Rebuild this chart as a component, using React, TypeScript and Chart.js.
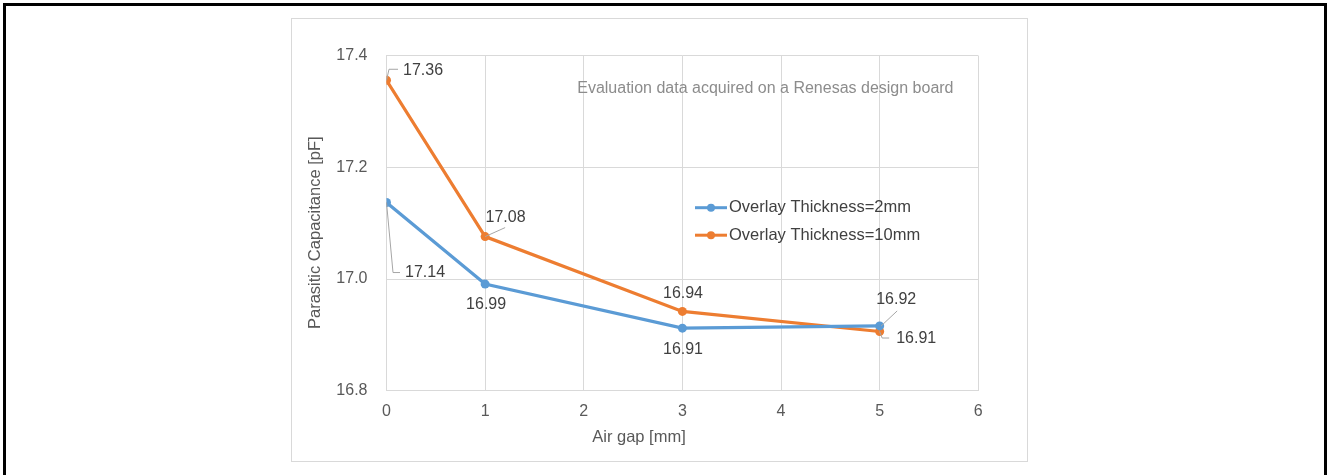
import React, { useEffect, useRef } from "react";
import { Chart, registerables } from "chart.js";

Chart.register(...registerables);

const airGap = [0, 1, 3, 5];
const thick2mm = [17.137, 16.991, 16.912, 16.916];
const thick10mm = [17.356, 17.076, 16.942, 16.906];
const seriesNames = ["Overlay Thickness=2mm", "Overlay Thickness=10mm"];
const seriesColors = ["#5B9BD5", "#ED7D31"];
const xTitle = "Air gap [mm]";
const yTitle = "Parasitic Capacitance [pF]";
const note = "Evaluation data acquired on a Renesas design board";

// label placement relative to each point (style only)
type Spec = { dx: number; dy: number; align: CanvasTextAlign; leader?: number[][] };
const labelSpecs: Spec[][] = [
  [
    { dx: 18.5, dy: 70, align: "left", leader: [[0, 0], [6.5, 70], [13.5, 70]] },
    { dx: 1, dy: 21, align: "center" },
    { dx: 0.6, dy: 21, align: "center" },
    { dx: 16.5, dy: -26, align: "center", leader: [[1.5, 0], [17.5, -15]] },
  ],
  [
    { dx: 16.5, dy: -10, align: "left", leader: [[0, 0], [2.5, -11], [11.5, -11]] },
    { dx: 20.4, dy: -19, align: "center", leader: [[0, 0], [20, -9]] },
    { dx: 0.6, dy: -18, align: "center" },
    { dx: 16.5, dy: 7.5, align: "left", leader: [[0, 0], [2.5, 6.5], [9.5, 6.5]] },
  ],
];

const FONT = "'Liberation Sans', Arial, sans-serif";

const overlayPlugin = {
  id: "overlay",
  afterDatasetsDraw(chart: any) {
    const ctx: CanvasRenderingContext2D = chart.ctx;
    const ca = chart.chartArea;
    ctx.save();
    // data labels
    chart.data.datasets.forEach((ds: any, di: number) => {
      const meta = chart.getDatasetMeta(di);
      meta.data.forEach((pt: any, i: number) => {
        const spec = labelSpecs[di][i];
        const v = ds.data[i].y as number;
        if (spec.leader) {
          ctx.strokeStyle = "#a6a6a6";
          ctx.lineWidth = 1;
          ctx.beginPath();
          spec.leader.forEach((p, k) => {
            const X = pt.x + p[0];
            const Y = pt.y + p[1];
            if (k === 0) ctx.moveTo(X, Y);
            else ctx.lineTo(X, Y);
          });
          ctx.stroke();
        }
        ctx.fillStyle = "#404040";
        ctx.font = `16px ${FONT}`;
        ctx.textAlign = spec.align;
        ctx.textBaseline = "middle";
        ctx.fillText(v.toFixed(2), pt.x + spec.dx, pt.y + spec.dy);
      });
    });
    // note
    ctx.fillStyle = "#8c8c8c";
    ctx.font = `16px ${FONT}`;
    ctx.textAlign = "right";
    ctx.textBaseline = "middle";
    ctx.fillText(note, ca.left + 567, ca.top + 32.5);
    // legend
    seriesNames.forEach((name, i) => {
      const y = ca.top + 152 + i * 27.5;
      const x0 = ca.left + 308.5;
      ctx.strokeStyle = seriesColors[i];
      ctx.lineWidth = 3;
      ctx.beginPath();
      ctx.moveTo(x0, y);
      ctx.lineTo(x0 + 32, y);
      ctx.stroke();
      ctx.fillStyle = seriesColors[i];
      ctx.beginPath();
      ctx.arc(x0 + 16, y, 4, 0, Math.PI * 2);
      ctx.fill();
      ctx.fillStyle = "#404040";
      ctx.font = `16.5px ${FONT}`;
      ctx.textAlign = "left";
      ctx.textBaseline = "middle";
      ctx.fillText(name, x0 + 34, y);
    });
    // axis titles
    ctx.fillStyle = "#595959";
    ctx.font = `16.5px ${FONT}`;
    ctx.textAlign = "center";
    ctx.textBaseline = "middle";
    ctx.fillText(xTitle, ca.left + 252.5, ca.bottom + 47);
    ctx.save();
    ctx.translate(23, (ca.top + ca.bottom) / 2 + 9.5);
    ctx.rotate(-Math.PI / 2);
    ctx.fillText(yTitle, 0, 0);
    ctx.restore();
    ctx.restore();
  },
};

export default function App() {
  const ref = useRef<HTMLCanvasElement>(null);
  useEffect(() => {
    if (!ref.current) return;
    const mk = (vals: number[]) => airGap.map((x, i) => ({ x, y: vals[i] }));
    const chart = new Chart(ref.current, {
      type: "line",
      data: {
        datasets: [thick2mm, thick10mm].map((vals, i) => ({
          label: seriesNames[i],
          data: mk(vals),
          borderColor: seriesColors[i],
          backgroundColor: seriesColors[i],
          borderWidth: 3.2,
          pointRadius: 4.5,
          pointBorderWidth: 0,
          pointBackgroundColor: seriesColors[i],
          tension: 0,
          fill: false,
        })),
      },
      options: {
        animation: false,
        responsive: false,
        layout: { padding: { top: 36.7, right: 48.7, left: 0, bottom: 0 } },
        plugins: { legend: { display: false }, tooltip: { enabled: false } },
        scales: {
          x: {
            type: "linear",
            min: 0,
            max: 6,
            ticks: { stepSize: 1, color: "#595959", font: { size: 16, family: FONT }, padding: 11 },
            grid: { color: "#d9d9d9", drawTicks: false, lineWidth: 1 },
            border: { color: "#d9d9d9" },
            afterFit: (s: any) => {
              s.height = 70.3;
            },
          },
          y: {
            min: 16.8,
            max: 17.4,
            ticks: {
              stepSize: 0.2,
              color: "#595959",
              font: { size: 16, family: FONT },
              padding: 19,
              callback: (v: any) => Number(v).toFixed(1),
            },
            grid: { color: "#d9d9d9", drawTicks: false, lineWidth: 1 },
            border: { color: "#d9d9d9" },
            afterFit: (s: any) => {
              s.width = 94.5;
            },
          },
        },
      },
      plugins: [overlayPlugin],
    } as any);
    return () => chart.destroy();
  }, []);
  return (
    <div style={{ position: "absolute", left: 0, top: 0, width: 1327, height: 475, overflow: "hidden", background: "#fff" }}>
      <div
        style={{
          position: "absolute",
          left: 3,
          top: 3,
          right: 0,
          height: 520,
          borderTop: "3px solid #000",
          borderLeft: "3px solid #000",
          borderRight: "3px solid #000",
          boxSizing: "border-box",
        }}
      />
      <div
        style={{
          position: "absolute",
          left: 291,
          top: 18,
          width: 737,
          height: 444,
          border: "1px solid #d9d9d9",
          boxSizing: "border-box",
        }}
      >
        <canvas ref={ref} width={735} height={442} style={{ display: "block", width: 735, height: 442 }} />
      </div>
    </div>
  );
}
